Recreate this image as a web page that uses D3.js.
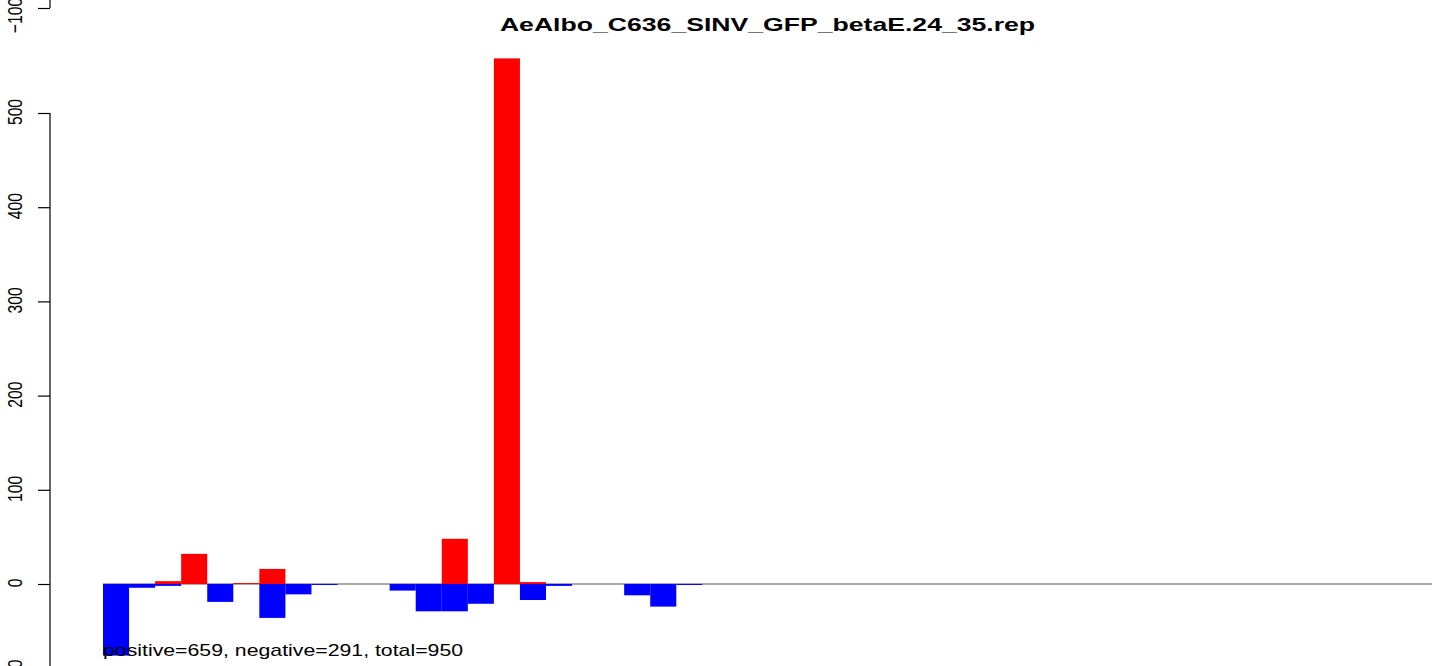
<!DOCTYPE html>
<html>
<head>
<meta charset="utf-8">
<script src="https://cdn.jsdelivr.net/npm/d3@7"></script>
<style>
html, body { margin: 0; padding: 0; background: #fff; }
svg { display: block; font-family: "Liberation Sans", Arial, sans-serif; }
</style>
</head>
<body>
<svg id="chart" width="1444" height="666"></svg>
<script>
const title = "AeAlbo_C636_SINV_GFP_betaE.24_35.rep";
const categories = d3.range(1, 52);
const positiveValues = [0, 0, 3, 32, 0, 1, 16, 0, 0, 0, 0, 0, 0, 48, 0, 558, 2, 0, 0, 0, 0, 0, 0,
  0,0,0,0,0,0,0,0,0,0,0,0,0,0,0,0,0,0,0,0,0,0,0,0,0,0,0,0];
const negativeValues = [-76, -4, -2, 0, -19, 0, -36, -11, -1, 0, 0, -7, -29, -29, -21, 0, -17, -2, 0, 0, -12, -24, -1,
  0,0,0,0,0,0,0,0,0,0,0,0,0,0,0,0,0,0,0,0,0,0,0,0,0,0,0,0];
const yTicks = [0, 100, 200, 300, 400, 500, -100];
const prevPanelTicks = [-100];
const summary = "positive=659, negative=291, total=950";

const FONT = 15.7;      // vertical font size
const STRETCH = 1.34;   // horizontal stretch of the original rendering

const svg = d3.select("#chart");

const x = d3.scaleBand().domain(categories).range([103, 1432]).padding(0);
const y = d3.scaleLinear().domain([0, 500]).range([584, 113]);

// baseline
svg.append("line")
  .attr("x1", 103).attr("x2", 1432)
  .attr("y1", y(0)).attr("y2", y(0))
  .attr("stroke", "#555").attr("stroke-width", 1.2);

// bars
svg.append("g").selectAll("rect")
  .data(categories.map((c, i) => ({c, v: positiveValues[i]})).filter(d => d.v > 0))
  .join("rect")
  .attr("x", d => x(d.c)).attr("width", x.bandwidth())
  .attr("y", d => y(d.v)).attr("height", d => y(0) - y(d.v))
  .attr("fill", "#ff0000");

svg.append("g").selectAll("rect")
  .data(categories.map((c, i) => ({c, v: negativeValues[i]})).filter(d => d.v < 0))
  .join("rect")
  .attr("x", d => x(d.c)).attr("width", x.bandwidth())
  .attr("y", y(0)).attr("height", d => y(d.v) - y(0))
  .attr("fill", "#0000ff");

// y axis
function styleAxis(g, labelShift) {
  g.attr("font-size", null).attr("font-family", null);
  g.selectAll("path.domain").attr("stroke", "#000").attr("stroke-width", 1.2);
  g.selectAll(".tick line").attr("stroke", "#000").attr("stroke-width", 1.2);
  g.selectAll(".tick text")
    .attr("font-size", FONT)
    .attr("font-family", "Liberation Sans, Arial, sans-serif")
    .attr("fill", "#000")
    .attr("text-anchor", "middle")
    .attr("x", 0).attr("y", 0).attr("dy", "0.36em")
    .attr("transform", `translate(-35.5,${labelShift || 0}) scale(${STRETCH},1) rotate(-90)`);
}

const yAxisScale = d3.scaleLinear().domain([-100, 500]).range([y(-100), y(500)]);
const yAxisG = svg.append("g").attr("transform", "translate(50,0)")
  .call(d3.axisLeft(yAxisScale).tickValues(yTicks).tickSize(12).tickSizeOuter(0)
    .tickFormat(d => d < 0 ? "\u2212" + Math.abs(d) : d));
styleAxis(yAxisG, -1.5);
yAxisG.select("path.domain").attr("d", `M0,${y(500)}V${y(-100) + 40}`);

// fragment of the previous panel's axis
const prevScale = d3.scaleLinear().domain([-100, -90]).range([8, -86]);
const prevG = svg.append("g").attr("transform", "translate(50,0)")
  .call(d3.axisLeft(prevScale).tickValues(prevPanelTicks).tickSize(12).tickSizeOuter(0)
    .tickFormat(d => "\u2212" + Math.abs(d)));
styleAxis(prevG, 7);
prevG.select("path.domain").attr("d", `M0,8V-20`);

// horizontally stretched text helper: fits text into a target width
function stretchedText(str, x0, y0, size, weight, targetWidth, anchor) {
  const t = svg.append("text")
    .attr("font-size", size)
    .attr("font-weight", weight)
    .attr("text-anchor", anchor)
    .text(str);
  const w = t.node().getComputedTextLength();
  const sx = targetWidth ? targetWidth / w : STRETCH;
  t.attr("transform", `translate(${x0},${y0}) scale(${sx},1)`);
  return t;
}

// title
stretchedText(title, 767.5, 31, FONT * 1.2, "bold", 535, "middle");

// summary
stretchedText(summary, 103, 656, FONT, "normal", 360, "start");
</script>
</body>
</html>
